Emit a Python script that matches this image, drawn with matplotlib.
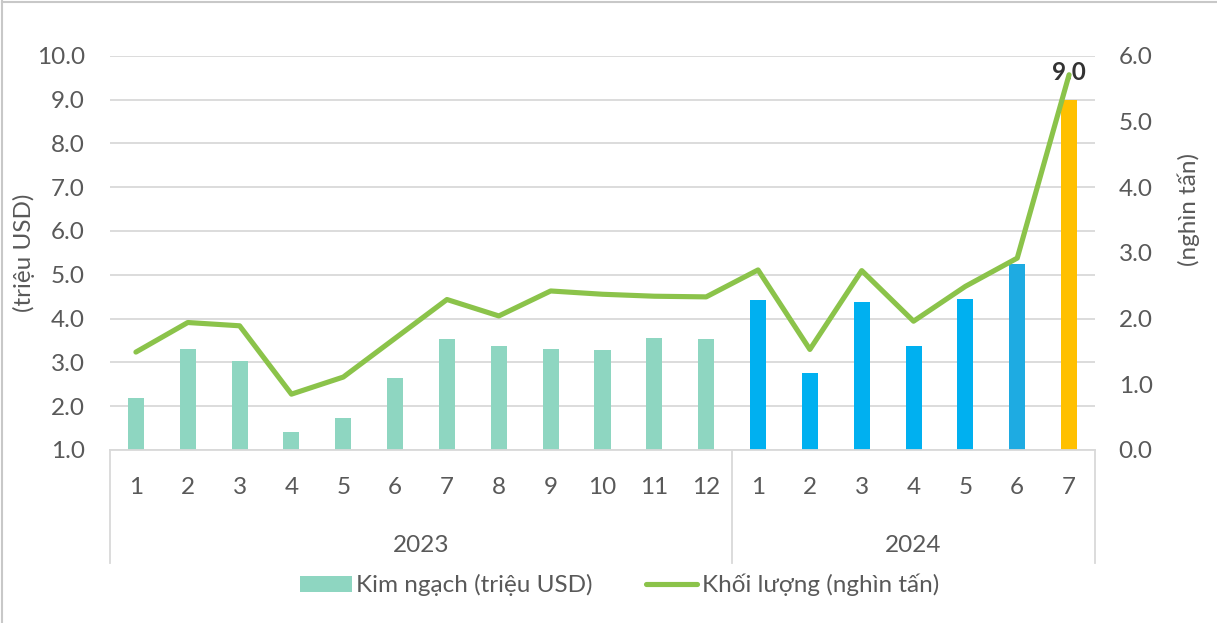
import matplotlib
matplotlib.use("Agg")
import matplotlib.pyplot as plt
from matplotlib.patches import Patch
from matplotlib.lines import Line2D
import matplotlib.transforms as mtransforms

plt.rcParams['font.family'] = ['Lato', 'DejaVu Sans']

# ---- data ----
months = ["1", "2", "3", "4", "5", "6", "7", "8", "9", "10", "11", "12",
          "1", "2", "3", "4", "5", "6", "7"]
years = ["2023", "2024"]
year_counts = [12, 7]
kim_ngach = [2.18, 3.31, 3.03, 1.40, 1.74, 2.65, 3.54, 3.37, 3.31, 3.29, 3.56, 3.53,
             4.42, 2.76, 4.38, 3.37, 4.45, 5.25, 9.0]
khoi_luong = [1.49, 1.94, 1.89, 0.85, 1.11, 1.70, 2.29, 2.04, 2.42, 2.37, 2.34, 2.33,
              2.74, 1.53, 2.73, 1.96, 2.49, 2.92, 5.71]
bar_colors = ["#8ED6C1"] * 12 + ["#00B0F0"] * 5 + ["#1EABE2", "#FFC000"]

label_bar = "Kim ngạch (triệu USD)"
label_line = "Khối lượng (nghìn tấn)"
left_title = "(triệu USD)"
right_title = "(nghìn tấn)"

TXT = "#595959"
GRID = "#D9D9D9"
GREEN = "#8BC34A"
FS = 17.5

W, H = 1217, 623
fig = plt.figure(figsize=(W / 100, H / 100), dpi=100)
ax = fig.add_axes([110 / W, 1 - 450 / H, (1095 - 110) / W, (450 - 55.7) / H])

x = list(range(len(months)))
base = 1.0
ax.bar(x, [v - base for v in kim_ngach], bottom=base, width=0.31,
       color=bar_colors, zorder=2)
ax.set_ylim(1.0, 10.0)
ax.set_xlim(-0.5, len(months) - 0.5)
ax.set_yticks([1 + i for i in range(10)])
ax.set_yticklabels([f"{1 + i:.1f}" for i in range(10)])
ax.yaxis.grid(True, color=GRID, linewidth=1.3, zorder=0)
ax.set_axisbelow(True)
ax.tick_params(axis='y', length=0, pad=18, labelsize=FS, labelcolor=TXT)
ax.set_xticks([])
for s in ['top', 'right', 'left']:
    ax.spines[s].set_visible(False)
ax.spines['bottom'].set_color(GRID)
ax.spines['bottom'].set_linewidth(1.3)

# data label on last bar
ax.annotate(f"{kim_ngach[-1]:.1f}", (x[-1], kim_ngach[-1]), xytext=(0, 11),
            textcoords='offset points', ha='center', va='bottom',
            fontsize=FS, fontweight='bold', color="#333333", zorder=5)

ax2 = ax.twinx()
ax2.plot(x, khoi_luong, color=GREEN, linewidth=3.7, solid_joinstyle='round',
         solid_capstyle='round', zorder=3)
ax2.set_ylim(0, 6)
ax2.set_yticks(range(7))
ax2.set_yticklabels([f"{i:.1f}" for i in range(7)])
ax2.tick_params(axis='y', length=0, pad=17, labelsize=FS, labelcolor=TXT)
for s in ax2.spines.values():
    s.set_visible(False)

# category axis (months + years)
trans = mtransforms.blended_transform_factory(ax.transData, fig.transFigure)
for xi, m in zip(x, months):
    ax.text(xi, 1 - 488 / H, m, transform=trans, ha='center', va='center',
            fontsize=FS, color=TXT)
start = 0
seps = [-0.5]
for yr, n in zip(years, year_counts):
    mid = start + (n - 1) / 2
    ax.text(mid, 1 - 546 / H, yr, transform=trans, ha='center', va='center',
            fontsize=FS, color=TXT)
    start += n
    seps.append(start - 0.5)
for sx in seps:
    ax.add_line(Line2D([sx, sx], [1 - 450 / H, 1 - 563 / H], transform=trans,
                       color=GRID, linewidth=1.3, clip_on=False))

# axis titles
fig.text(24 / W, 1 - 253 / H, left_title, rotation=90, ha='center', va='center',
         fontsize=FS, color=TXT)
fig.text(1189 / W, 1 - 210 / H, right_title, rotation=90, ha='center', va='center',
         fontsize=FS, color=TXT)

# legend
handles = [Patch(facecolor=bar_colors[0], label=label_bar),
           Line2D([], [], color=GREEN, linewidth=3.7, solid_capstyle='round', label=label_line)]
fig.legend(handles=handles, loc='center', bbox_to_anchor=(620 / W, 1 - 585 / H),
           ncol=2, frameon=False, fontsize=FS, labelcolor=TXT,
           handlelength=2.1, handleheight=0.65, handletextpad=0.2, columnspacing=2.2)

# outer border (top & left)
fig.add_artist(Line2D([2 / W, 2 / W], [0, 1 - 1 / H], transform=fig.transFigure,
                      color="#C8C8C8", linewidth=1.5))
fig.add_artist(Line2D([2 / W, 1], [1 - 1.5 / H, 1 - 1.5 / H], transform=fig.transFigure,
                      color="#C8C8C8", linewidth=1.5))

fig.savefig("out.png", dpi=100, facecolor="white")
